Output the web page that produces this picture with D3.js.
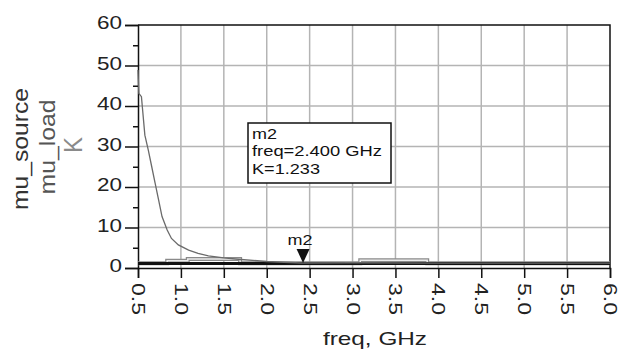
<!DOCTYPE html>
<html>
<head>
<meta charset="utf-8">
<script src="https://cdn.jsdelivr.net/npm/d3@7"></script>
<style>
  body { margin: 0; background: #fff; }
  svg { display: block; font-family: "Liberation Sans", Arial, sans-serif; }
</style>
</head>
<body>
<div id="chart"></div>
<script>
// Chart size, same as the window;
var width = 632
var height = 351
var margin = { top: 25, right: 22, bottom: 83, left: 138 }

// Data;
const xTicks = [0.5, 1.0, 1.5, 2.0, 2.5, 3.0, 3.5, 4.0, 4.5, 5.0, 5.5, 6.0]
const yTicks = [0, 10, 20, 30, 40, 50, 60]
const yMinorTicks = [5, 15, 25, 35, 45, 55]

// K, the decaying trace;
const freqK = [0.5, 0.51, 0.54, 0.58, 0.62, 0.66, 0.70, 0.74, 0.78, 0.84, 0.89, 0.97, 1.09, 1.2, 1.32, 1.5, 1.7, 2.0, 2.4, 3.0, 4.0, 5.0, 6.0]
const valK = [48.9, 43.1, 42.3, 32.8, 29.1, 25.0, 20.9, 16.8, 12.7, 9.4, 7.3, 5.7, 4.4, 3.6, 3.0, 2.5, 2.1, 1.6, 1.233, 1.3, 1.2, 1.2, 1.2]

// mu_source, the thick black trace near the bottom;
const freqSource = [0.5, 1.0, 2.0, 3.0, 4.0, 5.0, 6.0]
const valSource = [1.1, 1.1, 1.1, 1.1, 1.1, 1.1, 1.1]

// mu_load, the stepped grey trace;
const freqLoad = [0.5, 0.84, 1.08, 1.69, 3.09, 3.87, 6.0]
const valLoad = [1.2, 1.8, 2.2, 1.2, 1.9, 1.2, 1.2]

// Marker m2;
const markerFreq = 2.4
const markerVal = 1.233
const markerLines = ["m2", "freq=2.400 GHz", "K=1.233"]

/////////////////////////////

const svg = d3.select("#chart").append("svg")
    .attr("width", width)
    .attr("height", height)

const x = d3.scaleLinear().domain([0.5, 6.0]).range([margin.left, width - margin.right])
const y = d3.scaleLinear().domain([0, 60]).range([height - margin.bottom, margin.top])

// Grid;
svg.append("g")
    .selectAll("line.vg")
    .data(xTicks.slice(1, -1))
    .join("line")
    .attr("x1", d => x(d)).attr("x2", d => x(d))
    .attr("y1", y(60)).attr("y2", y(0))
    .attr("stroke", "#b4b4b4").attr("stroke-width", 1.5)

svg.append("g")
    .selectAll("line.hg")
    .data(yTicks.slice(1, -1))
    .join("line")
    .attr("x1", x(0.5)).attr("x2", x(6.0))
    .attr("y1", d => y(d)).attr("y2", d => y(d))
    .attr("stroke", "#b4b4b4").attr("stroke-width", 1.5)

// Frame: top and right;
svg.append("path")
    .attr("d", `M${x(0.5)},${y(60)}H${x(6.0)}V${y(0)}`)
    .attr("fill", "none").attr("stroke", "#111").attr("stroke-width", 1.5)

// Text width helper, the original font is wider than Arial;
var textWidth = s => s.split("").reduce((a, c) => a + (c == "." ? 7 : 12.5), 0)

// Axes;
const xAxis = svg.append("g")
    .attr("transform", `translate(0,${y(0)})`)
    .call(d3.axisBottom(x).tickValues(xTicks).tickSize(10).tickFormat(d3.format(".1f")))
xAxis.select(".domain").attr("stroke", "#111").attr("stroke-width", 1.5)
xAxis.selectAll(".tick line").attr("stroke", "#111").attr("stroke-width", 1.5)
xAxis.selectAll(".tick text")
    .attr("transform", "rotate(90)")
    .attr("x", 15).attr("y", 0).attr("dy", "0.36em")
    .style("text-anchor", "start")
    .attr("font-size", 18).attr("fill", "#222")
    .attr("textLength", function () { return textWidth(this.textContent) })
    .attr("lengthAdjust", "spacingAndGlyphs")

const yAxis = svg.append("g")
    .attr("transform", `translate(${x(0.5)},0)`)
    .call(d3.axisLeft(y).tickValues(yTicks).tickSize(13).tickPadding(3))
yAxis.select(".domain").attr("stroke", "#111").attr("stroke-width", 1.5)
yAxis.selectAll(".tick line").attr("stroke", "#111").attr("stroke-width", 1.5)
yAxis.selectAll(".tick text")
    .attr("font-size", 18).attr("fill", "#222").attr("dy", "0.2em")
    .attr("textLength", function () { return textWidth(this.textContent) })
    .attr("lengthAdjust", "spacingAndGlyphs")

const yMinor = svg.append("g")
    .attr("transform", `translate(${x(0.5)},0)`)
    .call(d3.axisLeft(y).tickValues(yMinorTicks).tickSize(5).tickFormat(""))
yMinor.select(".domain").remove()
yMinor.selectAll(".tick line").attr("stroke", "#111").attr("stroke-width", 1.5)

// Traces;
const line = d3.line().x(d => x(d[0])).y(d => y(d[1]))
const stepLine = d3.line().x(d => x(d[0])).y(d => y(d[1])).curve(d3.curveStepAfter)

const loadData = d3.zip(freqLoad, valLoad)
svg.append("path").attr("d", stepLine(loadData))
    .attr("fill", "none").attr("stroke", "#8a8a8a").attr("stroke-width", 4)
svg.append("path").attr("d", stepLine(loadData))
    .attr("fill", "none").attr("stroke", "#ececec").attr("stroke-width", 1.5)

svg.append("path").attr("d", line(d3.zip(freqSource, valSource)))
    .attr("fill", "none").attr("stroke", "#111").attr("stroke-width", 3)

svg.append("path").attr("d", line(d3.zip(freqK, valK)))
    .attr("fill", "none").attr("stroke", "#6a6a6a").attr("stroke-width", 1.3)

// Marker triangle and its label;
const mx = x(markerFreq) + 2
const my = y(markerVal)
svg.append("path")
    .attr("d", `M${mx - 6.5},${my - 14}H${mx + 6.5}L${mx},${my}Z`)
    .attr("fill", "#111")
svg.append("text")
    .attr("x", mx - 3).attr("y", my - 18)
    .attr("text-anchor", "middle")
    .attr("font-size", 15).attr("fill", "#111")
    .attr("textLength", 25).attr("lengthAdjust", "spacingAndGlyphs")
    .text("m2")

// Readout box;
svg.append("rect")
    .attr("x", 248).attr("y", 123).attr("width", 143).attr("height", 60)
    .attr("fill", "#fff").attr("stroke", "#111").attr("stroke-width", 1.5)
const boxLengths = [25, 130, 68]
svg.append("g")
    .selectAll("text")
    .data(markerLines)
    .join("text")
    .attr("x", 252)
    .attr("y", (d, i) => 138.5 + i * 17.5)
    .attr("font-size", 15).attr("fill", "#111")
    .attr("textLength", (d, i) => boxLengths[i]).attr("lengthAdjust", "spacingAndGlyphs")
    .text(d => d)

// Axis titles;
svg.append("text")
    .attr("x", 375).attr("y", 345)
    .attr("text-anchor", "middle")
    .attr("font-size", 19).attr("fill", "#222")
    .attr("textLength", 104).attr("lengthAdjust", "spacingAndGlyphs")
    .text("freq, GHz")

const yTitles = [
    { text: "mu_source", x: 28, y: 149, size: 22, len: 122, color: "#333" },
    { text: "mu_load", x: 55, y: 147, size: 22, len: 95, color: "#555" },
    { text: "K", x: 82, y: 145, size: 26, len: 16, color: "#8a8a8a" }
]
svg.append("g")
    .selectAll("text")
    .data(yTitles)
    .join("text")
    .attr("transform", d => `translate(${d.x},${d.y}) rotate(-90)`)
    .attr("text-anchor", "middle")
    .attr("font-size", d => d.size).attr("fill", d => d.color)
    .attr("textLength", d => d.len).attr("lengthAdjust", "spacingAndGlyphs")
    .text(d => d.text)
</script>
</body>
</html>
